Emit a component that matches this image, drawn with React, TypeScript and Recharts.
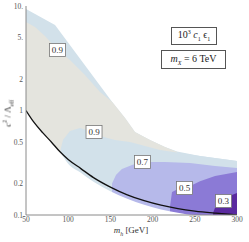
import React from 'react';
import { ComposedChart, Area, Line, XAxis, YAxis, Scatter } from 'recharts';

const xMajorTicks = [50, 100, 150, 200, 250, 300];
const xMinorTicks = [60, 70, 80, 90, 110, 120, 130, 140, 160, 170, 180, 190, 210, 220, 230, 240, 260, 270, 280, 290];
const yMajorTicks = [0.1, 0.2, 0.5, 1, 2, 5, 10];
const yTickLabels = ['0.1', '0.2', '0.5', '1', '2', '5.', '10.'];
const yMinorTicks = [0.3, 0.4, 0.6, 0.7, 0.8, 0.9, 3, 4, 6, 7, 8, 9];

// black boundary curve
const thresholdCurve = [
  { x: 50, y: 1.0 }, { x: 60, y: 0.76 }, { x: 70, y: 0.61 }, { x: 80, y: 0.5 },
  { x: 90, y: 0.405 }, { x: 100, y: 0.34 }, { x: 115, y: 0.278 }, { x: 130, y: 0.228 },
  { x: 150, y: 0.185 }, { x: 170, y: 0.156 }, { x: 190, y: 0.137 }, { x: 210, y: 0.124 },
  { x: 230, y: 0.115 }, { x: 250, y: 0.109 }, { x: 275, y: 0.104 }, { x: 300, y: 0.1 },
];
// lower edge of the coloured fill (just under the curve)
const fillBottom = [
  { x: 50, y: 1.0 }, { x: 60, y: 0.76 }, { x: 70, y: 0.61 }, { x: 80, y: 0.5 },
  { x: 90, y: 0.405 }, { x: 100, y: 0.31 }, { x: 115, y: 0.254 }, { x: 130, y: 0.208 },
  { x: 150, y: 0.169 }, { x: 170, y: 0.143 }, { x: 190, y: 0.125 }, { x: 210, y: 0.113 },
  { x: 230, y: 0.105 }, { x: 250, y: 0.1 }, { x: 300, y: 0.1 },
];
// outer edge of the data region (light blue / white)
const blueTop = [
  { x: 50, y: 9.36 }, { x: 84.4, y: 6.58 }, { x: 151.9, y: 1.21 }, { x: 167.3, y: 0.848 },
  { x: 179.1, y: 0.623 }, { x: 196.9, y: 0.522 }, { x: 214.7, y: 0.448 }, { x: 229, y: 0.405 },
  { x: 256.2, y: 0.367 }, { x: 300, y: 0.329 },
];
// upper 0.9 contour (gray region top)
const grayTop = [
  { x: 50, y: 7.03 }, { x: 60.7, y: 6.3 }, { x: 72.5, y: 5.16 }, { x: 86.7, y: 3.88 },
  { x: 102.1, y: 3.04 }, { x: 119.9, y: 2.19 }, { x: 137.7, y: 1.5 }, { x: 151.9, y: 1.21 },
  { x: 167.3, y: 0.848 }, { x: 179.1, y: 0.623 }, { x: 196.9, y: 0.522 }, { x: 214.7, y: 0.448 },
  { x: 229, y: 0.4 },
];
// lower 0.9 contour (gray region bottom)
const grayBottom = [
  { x: 90.3, y: 0.4 }, { x: 93.8, y: 0.522 }, { x: 102.1, y: 0.637 }, { x: 114, y: 0.68 },
  { x: 125.8, y: 0.637 }, { x: 137.7, y: 0.57 }, { x: 155.4, y: 0.522 }, { x: 173.2, y: 0.5 },
  { x: 208.8, y: 0.419 }, { x: 229, y: 0.397 }, { x: 256.2, y: 0.367 }, { x: 300, y: 0.329 },
];
// 0.7 contour
const lavenderTop = [
  { x: 151.9, y: 0.2 }, { x: 156.6, y: 0.2415 }, { x: 163.7, y: 0.275 }, { x: 175.6, y: 0.301 },
  { x: 187.4, y: 0.322 }, { x: 214.7, y: 0.322 }, { x: 244.3, y: 0.315 }, { x: 274, y: 0.294 },
  { x: 300, y: 0.282 },
];
// 0.5 contour
const purpleTop = [
  { x: 220.6, y: 0.12 }, { x: 223, y: 0.166 }, { x: 230.1, y: 0.1774 }, { x: 239.6, y: 0.181 },
  { x: 256.2, y: 0.21 }, { x: 274, y: 0.236 }, { x: 300, y: 0.258 },
];
// 0.3 contour
const darkPurpleTop = [
  { x: 271.6, y: 0.1045 }, { x: 275.2, y: 0.1247 }, { x: 282.3, y: 0.139 }, { x: 291.7, y: 0.153 },
  { x: 300, y: 0.1624 },
];
const contourLabels = [
  { x: 87.3, y: 3.79, text: '0.9' },
  { x: 130.6, y: 0.623, text: '0.9' },
  { x: 188, y: 0.322, text: '0.7' },
  { x: 237.8, y: 0.181, text: '0.5' },
  { x: 284, y: 0.136, text: '0.3' },
];

const XD: [number, number] = [50, 300];
const YD: [number, number] = [0.1, 10];
const FRAME = '#8a8a8a';
const SERIF = '"Liberation Serif", "DejaVu Serif", serif';

function ContourLabel(props: any) {
  const { cx, cy, payload } = props;
  if (cx == null || cy == null) return null;
  return (
    <g>
      <rect x={cx - 8} y={cy - 6.5} width={16} height={13} fill="#ffffff" stroke="#777" strokeWidth={0.8} />
      <text x={cx} y={cy + 3} textAnchor="middle" fontFamily={SERIF} fontSize={9} fill="#333">
        {payload.text}
      </text>
    </g>
  );
}

const tickFont = { fontFamily: SERIF, fontSize: 7.5, fill: '#555' };

export default function App() {
  const common = { xAxisId: 'x', yAxisId: 'y', isAnimationActive: false, type: 'linear' as const, stroke: 'none', fillOpacity: 1, baseValue: 0.1, dataKey: 'y' };
  return (
    <div style={{ position: 'fixed', left: 0, top: 0, width: 249, height: 242, background: '#fff' }}>
      <ComposedChart width={249} height={242} margin={{ top: 6, right: 12, left: 0, bottom: 0 }}>
        <XAxis xAxisId="x" dataKey="x" type="number" domain={XD} allowDataOverflow ticks={xMajorTicks}
          height={27} tickLine={false} tickSize={0} tickMargin={2} stroke={FRAME} tick={tickFont} />
        <XAxis xAxisId="xbM" type="number" domain={XD} allowDataOverflow ticks={xMajorTicks} orientation="bottom"
          mirror height={0} tickSize={4} axisLine={false} stroke={FRAME} tick={() => null} />
        <XAxis xAxisId="xbm" type="number" domain={XD} allowDataOverflow ticks={xMinorTicks} orientation="bottom"
          mirror height={0} tickSize={2} axisLine={false} stroke={FRAME} tick={() => null} />
        <XAxis xAxisId="xtM" type="number" domain={XD} allowDataOverflow ticks={xMajorTicks} orientation="top"
          mirror height={0} tickSize={4} stroke={FRAME} tick={() => null} />
        <XAxis xAxisId="xtm" type="number" domain={XD} allowDataOverflow ticks={xMinorTicks} orientation="top"
          mirror height={0} tickSize={2} axisLine={false} stroke={FRAME} tick={() => null} />
        <YAxis yAxisId="y" type="number" scale="log" domain={YD} allowDataOverflow ticks={yMajorTicks}
          width={26} tickLine={false} tickSize={0} tickMargin={3} stroke={FRAME} tick={tickFont}
          tickFormatter={(v: number) => yTickLabels[yMajorTicks.indexOf(v)] ?? String(v)} />
        <YAxis yAxisId="ylM" type="number" scale="log" domain={YD} allowDataOverflow ticks={yMajorTicks}
          orientation="left" mirror width={0} tickSize={4} axisLine={false} stroke={FRAME} tick={() => null} />
        <YAxis yAxisId="ylm" type="number" scale="log" domain={YD} allowDataOverflow ticks={yMinorTicks}
          orientation="left" mirror width={0} tickSize={2} axisLine={false} stroke={FRAME} tick={() => null} />
        <YAxis yAxisId="yrM" type="number" scale="log" domain={YD} allowDataOverflow ticks={yMajorTicks}
          orientation="right" mirror width={0} tickSize={4} stroke={FRAME} tick={() => null} />
        <YAxis yAxisId="yrm" type="number" scale="log" domain={YD} allowDataOverflow ticks={yMinorTicks}
          orientation="right" mirror width={0} tickSize={2} axisLine={false} stroke={FRAME} tick={() => null} />

        <Area {...common} data={blueTop} fill="#d2e1ea" />
        <Area {...common} data={grayTop} fill="#e4e4de" />
        <Area {...common} data={grayBottom} fill="#d2e1ea" />
        <Area {...common} data={lavenderTop} fill="#b6b9ea" />
        <Area {...common} data={purpleTop} fill="#8b7ad6" />
        <Area {...common} data={darkPurpleTop} fill="#5a2a9f" />
        <Area {...common} type="monotone" data={fillBottom} fill="#ffffff" />
        <Line xAxisId="x" yAxisId="y" data={thresholdCurve} dataKey="y" type="monotone" stroke="#111"
          strokeWidth={1.3} dot={false} isAnimationActive={false} />
        <Scatter xAxisId="x" yAxisId="y" data={contourLabels} dataKey="y" shape={ContourLabel} isAnimationActive={false} />
      </ComposedChart>

      <div style={{ position: 'absolute', left: -22, top: 104, width: 60, textAlign: 'center', transform: 'rotate(-90deg)',
        fontFamily: SERIF, fontSize: 9, color: '#333', whiteSpace: 'nowrap', lineHeight: '12px' }}>
        <i>c</i><sup style={{ fontSize: 6 }}>2</sup> / Λ<sub style={{ fontSize: 6 }}>eff</sub>
      </div>
      <div style={{ position: 'absolute', left: 101, top: 224, width: 60, textAlign: 'center',
        fontFamily: SERIF, fontSize: 9, color: '#333', whiteSpace: 'nowrap', lineHeight: '12px' }}>
        <i>m</i><sub style={{ fontSize: 6 }}><i>h</i></sub> [GeV]
      </div>
      <div style={{ position: 'absolute', left: 171, top: 27, width: 46, height: 18, border: '1px solid #555',
        background: '#fff', boxSizing: 'border-box', fontFamily: SERIF, fontSize: 10, color: '#222',
        display: 'flex', alignItems: 'center', justifyContent: 'center', whiteSpace: 'nowrap' }}>
        <span>10<sup style={{ fontSize: 6 }}>3</sup> <i>c</i><sub style={{ fontSize: 6 }}>1</sub> ϵ<sub style={{ fontSize: 6 }}>1</sub></span>
      </div>
      <div style={{ position: 'absolute', left: 161, top: 50, width: 65, height: 19, border: '1px solid #555',
        background: '#fff', boxSizing: 'border-box', fontFamily: SERIF, fontSize: 10, color: '#222',
        display: 'flex', alignItems: 'center', justifyContent: 'center', whiteSpace: 'nowrap' }}>
        <span><i>m</i><sub style={{ fontSize: 6 }}><i>X</i></sub> = 6 TeV</span>
      </div>
    </div>
  );
}
